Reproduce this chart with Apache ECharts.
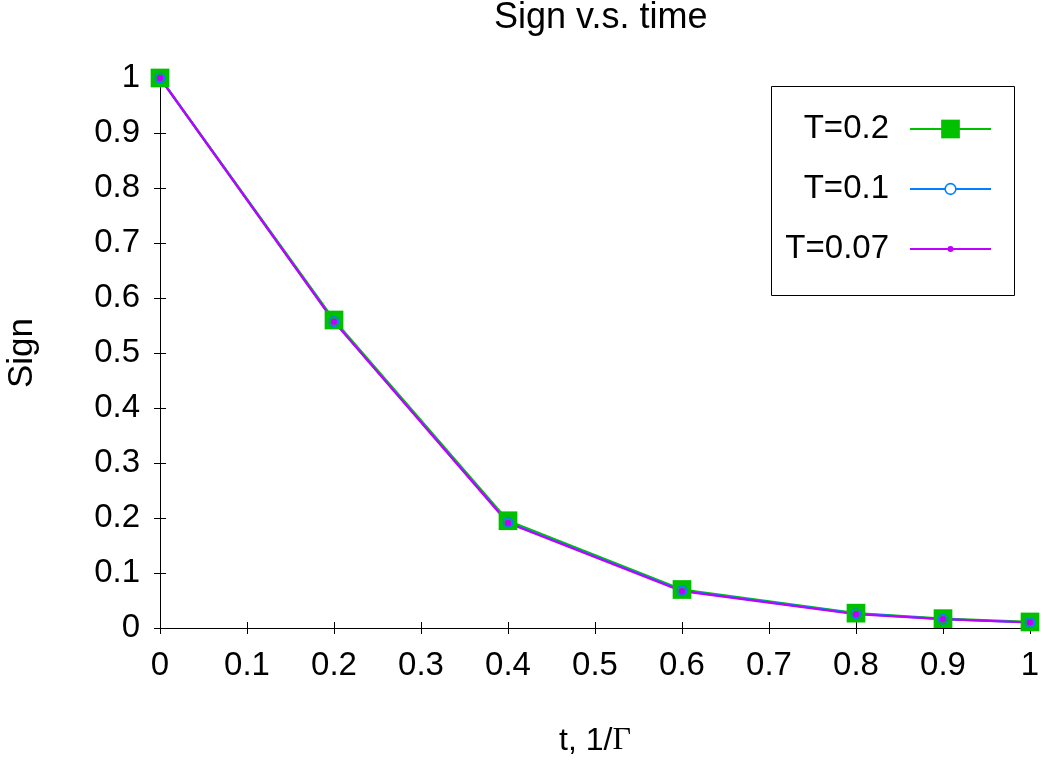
<!DOCTYPE html>
<html>
<head>
<meta charset="utf-8">
<script src="https://cdn.jsdelivr.net/npm/echarts@6/dist/echarts.min.js"></script>
<style>html,body{margin:0;padding:0;background:#fff}#c{width:1047px;height:766px}</style>
</head>
<body>
<div id="c"></div>
<script>
// ---- data ----
const tValues = [0, 0.2, 0.4, 0.6, 0.8, 0.9, 1.0];
const signT02 = [1.000, 0.560, 0.195, 0.070, 0.027, 0.017, 0.011];
const signT01 = [1.000, 0.557, 0.192, 0.068, 0.026, 0.016, 0.010];
const signT007 = [1.000, 0.557, 0.191, 0.067, 0.025, 0.016, 0.010];
const seriesNames = ['T=0.2', 'T=0.1', 'T=0.07'];
const titleText = 'Sign v.s. time';
const xName = 't, 1/';
const xNameGreek = 'Γ';
const yName = 'Sign';

const FONT = 'Liberation Sans, Arial, sans-serif';
const pairs = arr => tValues.map((t, i) => [t, arr[i]]);

const chart = echarts.init(document.getElementById('c'), null, {renderer: 'canvas'});

const axisCommon = {
  type: 'value', min: 0, max: 1, interval: 0.1,
  axisLine: {show: true, lineStyle: {color: '#000', width: 1}},
  axisTick: {show: true, inside: true, length: 6, lineStyle: {color: '#000', width: 1}},
  splitLine: {show: false}
};

function legendFor(name, itemHeight, top, itemStyle) {
  const lg = {
    data: [name], orient: 'vertical', align: 'right',
    right: 55, top: top, padding: 0,
    itemWidth: 81, itemHeight: itemHeight,
    selectedMode: false,
    textStyle: {fontFamily: FONT, fontSize: 33, color: '#000', lineHeight: 40, padding: [0, 16, 0, 0]}
  };
  if (itemStyle) lg.itemStyle = itemStyle;
  return lg;
}

chart.setOption({
  animation: false,
  backgroundColor: '#fff',
  title: {
    text: titleText, left: 494, top: 0, padding: 0,
    textStyle: {fontFamily: FONT, fontSize: 36, fontWeight: 'normal', color: '#000'}
  },
  grid: {left: 160, right: 17, top: 78, bottom: 138, containLabel: false, outerBoundsMode: 'none'},
  legend: [
    legendFor(seriesNames[0], 23.4, 109),
    legendFor(seriesNames[1], 13.4, 169, {color: '#fff', borderColor: '#0080ff', borderWidth: 1.6}),
    legendFor(seriesNames[2], 7.5, 229)
  ],
  graphic: [{
    type: 'rect', left: 769, top: 84, z: 1, silent: true,
    shape: {width: 243, height: 209},
    style: {fill: 'none', stroke: '#000', lineWidth: 1}
  }],
  xAxis: [
    Object.assign({}, axisCommon, {
      position: 'bottom',
      axisLabel: {fontFamily: FONT, fontSize: 33, color: '#000', margin: 21},
      name: '{a|' + xName + '}{g|' + xNameGreek + '}',
      nameLocation: 'middle', nameGap: 95,
      nameTextStyle: {
        rich: {
          a: {fontFamily: FONT, fontSize: 32, color: '#000', lineHeight: 36},
          g: {fontFamily: 'Liberation Serif, DejaVu Serif, serif', fontSize: 32, color: '#000', lineHeight: 36}
        }
      }
    }),
    Object.assign({}, axisCommon, {position: 'top', axisLabel: {show: false}})
  ],
  yAxis: [
    Object.assign({}, axisCommon, {
      position: 'left',
      axisLabel: {fontFamily: FONT, fontSize: 33, color: '#000', margin: 20},
      name: yName, nameLocation: 'middle', nameGap: 120, nameRotate: 90,
      nameTextStyle: {fontFamily: FONT, fontSize: 35, color: '#000'}
    }),
    Object.assign({}, axisCommon, {position: 'right', axisLabel: {show: false}})
  ],
  series: [
    {
      name: seriesNames[0], type: 'line', data: pairs(signT02),
      symbol: 'rect', symbolSize: 18.7, color: '#00c000',
      lineStyle: {color: '#00c000', width: 2.2},
      itemStyle: {color: '#00c000'},
      emphasis: {disabled: true}, clip: false
    },
    {
      name: seriesNames[1], type: 'line', data: pairs(signT01),
      symbol: 'circle', symbolSize: 9.5, color: '#0080ff',
      lineStyle: {color: '#0080ff', width: 2.2},
      itemStyle: {color: 'rgba(0,0,0,0)', borderColor: '#0080ff', borderWidth: 1.6},
      emphasis: {disabled: true}, clip: false
    },
    {
      name: seriesNames[2], type: 'line', data: pairs(signT007),
      symbol: 'circle', symbolSize: 6.5, color: '#c000ff',
      lineStyle: {color: '#c000ff', width: 2.2},
      itemStyle: {color: '#c000ff'},
      emphasis: {disabled: true}, clip: false
    }
  ]
});
</script>
</body>
</html>
